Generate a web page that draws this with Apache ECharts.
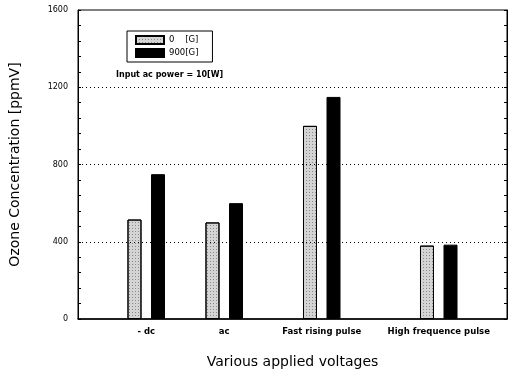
<!DOCTYPE html>
<html><head><meta charset="utf-8">
<script src="https://cdn.jsdelivr.net/npm/echarts@6/dist/echarts.min.js"></script>
<style>html,body{margin:0;padding:0;background:#fff}#c{width:510px;height:374px}</style>
</head><body><div id="c"></div>
<script>
// Data
const categories = ['- dc', 'ac', 'Fast rising pulse', 'High frequence pulse'];
const categorySlots = [3, 7, 12, 18];   // uneven spacing of groups along the axis (slot index out of slotCount)
const slotCount = 22;
const values0G = [515, 500, 1000, 380];
const values900G = [750, 600, 1150, 385];
const seriesNames = ['0    [G]', '900[G]'];
const yTicks = [0, 400, 800, 1200, 1600];

// Build slotted category axis
const axisCats = new Array(slotCount).fill('');
const d0 = new Array(slotCount).fill(null);
const d1 = new Array(slotCount).fill(null);
categories.forEach((c, i) => {
  axisCats[categorySlots[i]] = c;
  d0[categorySlots[i]] = values0G[i];
  d1[categorySlots[i]] = values900G[i];
});
const innerTicks = yTicks.slice(1, -1);

const font = 'DejaVu Sans, sans-serif';
const chart = echarts.init(document.getElementById('c'), null, {renderer: 'canvas'});
const yAxisCommon = {
  type: 'value', min: yTicks[0], max: yTicks[yTicks.length - 1], interval: 400,
  axisLine: {show: true, lineStyle: {color: '#000', width: 1}},
  axisTick: {show: true, inside: true, length: 3, lineStyle: {color: '#000'}},
  minorTick: {show: true, splitNumber: 5, length: 3, lineStyle: {color: '#000'}},
  splitLine: {show: false}
};
chart.setOption({
  animation: false,
  backgroundColor: '#fff',
  grid: {left: 76, right: 3, top: 10, bottom: 52, show: true, borderColor: '#000', borderWidth: 1},
  legend: {
    left: 127, top: 31, orient: 'vertical',
    padding: [4, 14, 4, 8], itemGap: 3, itemWidth: 28, itemHeight: 8, icon: 'rect',
    borderColor: '#000', borderWidth: 1,
    textStyle: {fontSize: 8.5, fontFamily: font, color: '#000'},
    data: seriesNames
  },
  graphic: [{
    type: 'text', left: 116, top: 71,
    style: {text: 'Input ac power = 10[W]', fontSize: 8, fontFamily: font, fill: '#000', fontWeight: 'bold'}
  }],
  xAxis: {
    type: 'category', data: axisCats,
    name: 'Various applied voltages', nameLocation: 'middle', nameGap: 36,
    nameTextStyle: {fontSize: 14, fontFamily: font, color: '#000'},
    axisLine: {lineStyle: {color: '#000', width: 1.5}},
    axisTick: {show: false},
    axisLabel: {interval: 0, fontSize: 8.5, fontFamily: font, color: '#000', fontWeight: 'bold', margin: 8},
    splitLine: {show: false}
  },
  yAxis: [
    Object.assign({}, yAxisCommon, {
      position: 'left',
      name: 'Ozone Concentration [ppmV]', nameLocation: 'middle', nameGap: 56,
      nameTextStyle: {fontSize: 14, fontFamily: font, color: '#000'},
      axisLabel: {fontSize: 8, fontFamily: font, color: '#000', margin: 10, formatter: v => String(v)}
    }),
    Object.assign({}, yAxisCommon, {
      position: 'right',
      axisLabel: {show: false}
    })
  ],
  series: [
    {
      name: seriesNames[0], type: 'bar', data: d0, barWidth: 14, barGap: '68%',
      itemStyle: {
        color: '#d4d4d4', borderColor: '#000', borderWidth: 1,
        decal: {symbol: 'rect', symbolSize: 1, dashArrayX: [1, 2], dashArrayY: [1, 2], color: 'rgba(0,0,0,0.35)'}
      },
      markLine: {
        silent: true, symbol: 'none', label: {show: false},
        lineStyle: {color: '#000', type: [1, 3], width: 1},
        data: innerTicks.map(v => ({yAxis: v}))
      }
    },
    {
      name: seriesNames[1], type: 'bar', data: d1, barWidth: 14,
      itemStyle: {color: '#000', borderColor: '#000', borderWidth: 1}
    }
  ]
});
</script>
</body></html>
